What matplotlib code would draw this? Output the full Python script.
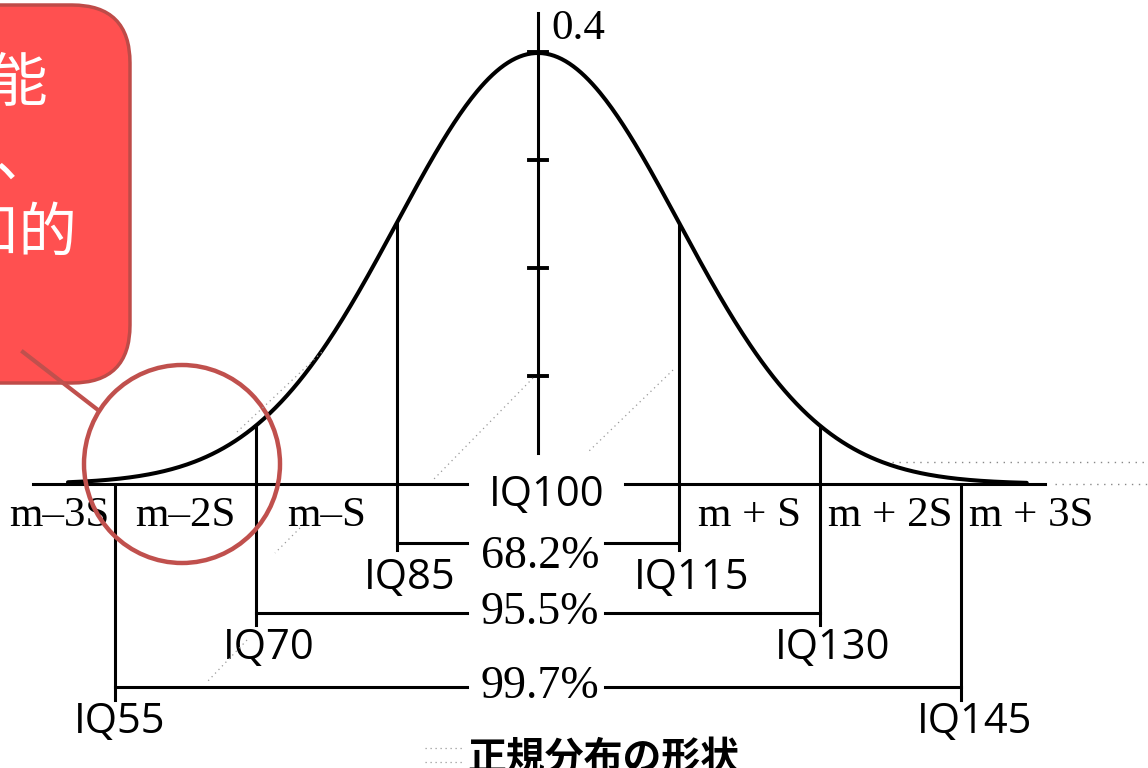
# Normal distribution / IQ chart with callout overlay

import numpy as np
import matplotlib
matplotlib.use("Agg")
import matplotlib.pyplot as plt
from matplotlib.patches import FancyBboxPatch, Ellipse

# ------------------------------------------
# Data
# ------------------------------------------

mean_iq = 100
sd_iq = 15
iq_marks = [55, 70, 85, 100, 115, 130, 145]
sigma_labels = ["m–3S", "m–2S", "m–S", "m + S", "m + 2S", "m + 3S"]
coverage_labels = ["68.2%", "95.5%", "99.7%"]
density_ticks = [0.1, 0.2, 0.3, 0.4]
top_tick_label = "0.4"
title = "正規分布の形状"
callout_lines = ["境界知能", "平均よりやや低く、", "軽度の知的"]

SERIF = "Liberation Serif"
SANS = "Open Sans"
CJK = ["Noto Sans CJK JP", "DejaVu Sans"]


def pdf(x):
    z = (np.asarray(x, dtype=float) - mean_iq) / sd_iq
    return np.exp(-0.5 * z * z) / np.sqrt(2 * np.pi)


fig = plt.figure(figsize=(11.48, 7.68), dpi=100)
ax = fig.add_axes([0, 0, 1, 1])
ax.set_xlim(42.77, 164.9)
ax.set_ylim(-0.263, 0.448)
ax.axis("off")

# curve
xs = np.linspace(50, 152, 500)
ax.plot(xs, pdf(xs), color="black", lw=2.9, solid_capstyle="round", zorder=3)

# baseline, broken where the IQ100 label sits
ax.plot([46.3, 92.4], [0, 0], color="black", lw=2.2)
ax.plot([109.3, 153.9], [0, 0], color="black", lw=2.2)
ax.plot([155, 165], [0, 0], color="#888888", lw=1, ls=(0, (1, 4)))
ax.plot([137.7, 165], [0.0204, 0.0204], color="#888888", lw=1, ls=(0, (1, 4)))

# vertical density axis
ax.plot([mean_iq, mean_iq], [0.029, 0.436], color="black", lw=2.2)
for t in density_ticks:
    ax.plot([mean_iq - 1, mean_iq + 1], [t, t], color="black", lw=2.8)
ax.text(mean_iq + 1.4, 0.421, top_tick_label, fontsize=31, family=SERIF,
        ha="left", va="center")

# sigma lines, brackets and labels
bracket_y = [-0.0546, -0.1194, -0.188]
line_bottom = [-0.061, -0.131, -0.20]
iq_label_y = [-0.087, -0.152, -0.220]
pct_y = [-0.0676, -0.1194, -0.188]
centre = iq_marks.index(mean_iq)

for k in range(1, 4):
    lo = iq_marks[centre - k]
    hi = iq_marks[centre + k]
    for x in (lo, hi):
        top = pdf(x) if k < 3 else 0
        ax.plot([x, x], [top, line_bottom[k - 1]], color="black", lw=2.2)
        nudge = 0.5 if x == iq_marks[0] else 1.4
        ax.text(x + nudge, iq_label_y[k - 1], f"IQ{x}", fontsize=30, family=SANS,
                ha="center", va="center")
    lev = bracket_y[k - 1]
    ax.plot([lo, 92.4], [lev, lev], color="black", lw=2.2)
    ax.plot([107.1, hi], [lev, lev], color="black", lw=2.2)
    ax.text(100.2, pct_y[k - 1], coverage_labels[k - 1], fontsize=33, family=SERIF,
            ha="center", va="center")

ax.text(mean_iq + 0.9, -0.0102, f"IQ{mean_iq}", fontsize=30, family=SANS,
        ha="center", va="center")

# m +/- kS labels between the sigma lines
below = [m - sd_iq / 2 for m in iq_marks[:centre]]
above = [m + sd_iq / 2 for m in iq_marks[centre + 1:]]
label_x = below + above
label_x[0] += 1.6
for lx, lab in zip(label_x, sigma_labels):
    ax.text(lx, -0.0295, lab, fontsize=31, family=SERIF, ha="center", va="center")

ax.text(107, -0.2546, title, fontsize=28, fontweight="bold", family=CJK,
        ha="center", va="center")

# ------------------------------------------
# Overlay (callout, circle, scan dots) in pixel space
# ------------------------------------------

ov = fig.add_axes([0, 0, 1, 1])
ov.set_xlim(0, 1148)
ov.set_ylim(768, 0)
ov.axis("off")
ov.patch.set_alpha(0)

dots = dict(color="#999999", lw=0.9, ls=(0, (1, 3)))
ov.plot([533, 433], [378, 480], **dots)
ov.plot([673, 587], [370, 453], **dots)
ov.plot([300, 275], [528, 553], **dots)
ov.plot([247, 207], [640, 682], **dots)
ov.plot([237, 322], [432, 352], **dots)
ov.plot([425, 462], [748, 748], **dots)
ov.plot([425, 462], [762, 762], **dots)

box = FancyBboxPatch((-100, 5), 230, 378, boxstyle="round,pad=0,rounding_size=58",
                     fc="#FF5050", ec="#BE4B48", lw=2.5)
ov.add_patch(box)
ov.plot([23, 98], [352, 410], color="#C0504D", lw=3)
ov.add_patch(Ellipse((182, 464), 196, 198, fill=False, ec="#C0504D", lw=3.2))

for (tx, ty), line in zip([(48, 84), (54, 159), (78, 235)], callout_lines):
    ov.text(tx, ty, line, color="white", fontsize=42, family=CJK,
            ha="right", va="center")

fig.savefig("out.png", dpi=100)
